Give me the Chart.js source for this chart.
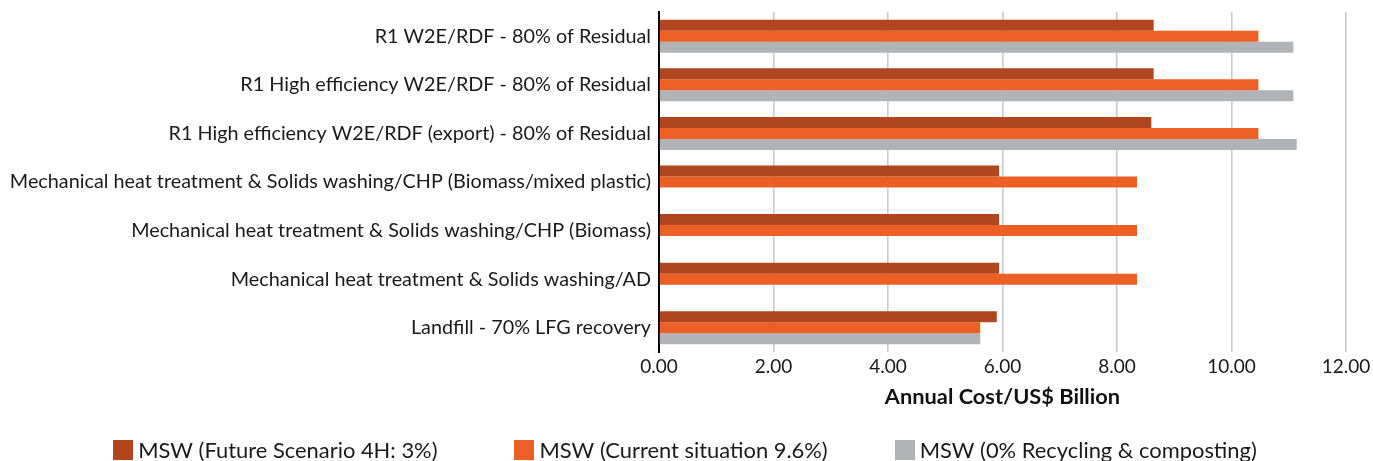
<!DOCTYPE html>
<html>
<head>
<meta charset="utf-8">
<script src="https://cdn.jsdelivr.net/npm/chart.js@4.4.1/dist/chart.umd.min.js"></script>
<style>
  html, body { margin: 0; padding: 0; background: #fff; }
  #wrap { width: 1373px; height: 461px; }
</style>
</head>
<body>
<div id="wrap"><canvas id="c" width="1373" height="461"></canvas></div>
<script>
const categories = [
  'R1 W2E/RDF - 80% of Residual',
  'R1 High efficiency W2E/RDF - 80% of Residual',
  'R1 High efficiency W2E/RDF (export) - 80% of Residual',
  'Mechanical heat treatment & Solids washing/CHP (Biomass/mixed plastic)',
  'Mechanical heat treatment & Solids washing/CHP (Biomass)',
  'Mechanical heat treatment & Solids washing/AD',
  'Landfill - 70% LFG recovery'
];
const seriesNames = [
  'MSW (Future Scenario 4H: 3%)',
  'MSW (Current situation 9.6%)',
  'MSW (0% Recycling & composting)'
];
const futureScenario = [8.64, 8.64, 8.60, 5.94, 5.94, 5.94, 5.90];
const currentSituation = [10.47, 10.47, 10.47, 8.35, 8.35, 8.35, 5.61];
const zeroRecycling = [11.08, 11.08, 11.14, null, null, null, 5.61];
const xTicks = [0, 2, 4, 6, 8, 10, 12];

const FONT = 'Lato, "Open Sans", sans-serif';

// Legend drawn as a single row beneath the axis title
const bottomLegend = {
  id: 'bottomLegend',
  afterDraw(chart) {
    const ctx = chart.ctx;
    const box = 20, textGap = 5, gaps = [77, 67], cy = 450, centre = 685;
    ctx.save();
    ctx.font = '21.9px ' + FONT;
    ctx.textBaseline = 'middle';
    const items = chart.data.datasets.map(ds => ({
      label: ds.label,
      color: ds.backgroundColor,
      w: box + textGap + ctx.measureText(ds.label).width
    }));
    const total = items.reduce((a, it) => a + it.w, 0) + gaps.reduce((a, g) => a + g, 0);
    let x = centre - total / 2;
    items.forEach((it, i) => {
      ctx.fillStyle = it.color;
      ctx.fillRect(Math.round(x), cy - box / 2, box, box);
      ctx.fillStyle = '#1a1a1a';
      ctx.fillText(it.label, x + box + textGap, cy + 1);
      x += it.w + (gaps[i] || 0);
    });
    ctx.restore();
  }
};

new Chart(document.getElementById('c'), {
  type: 'bar',
  data: {
    labels: categories,
    datasets: [
      { label: seriesNames[0], data: futureScenario, backgroundColor: '#B1461E' },
      { label: seriesNames[1], data: currentSituation, backgroundColor: '#EC6025' },
      { label: seriesNames[2], data: zeroRecycling, backgroundColor: '#B2B3B7' }
    ]
  },
  plugins: [bottomLegend],
  options: {
    indexAxis: 'y',
    responsive: false,
    animation: false,
    devicePixelRatio: 1,
    datasets: { bar: { categoryPercentage: 0.68, barPercentage: 1.0, skipNull: false } },
    layout: { padding: { top: 12, right: 27, left: 0, bottom: 51 } },
    plugins: {
      legend: { display: false },
      tooltip: { enabled: false }
    },
    scales: {
      x: {
        min: 0,
        max: 12,
        afterBuildTicks: (s) => { s.ticks = xTicks.map(v => ({ value: v })); },
        afterFit: (s) => {
          s.height = 58;
          s.paddingLeft = 0; s.paddingRight = 0; s.paddingTop = 0; s.paddingBottom = 0;
        },
        ticks: {
          callback: (v) => Number(v).toFixed(2),
          font: { family: FONT, size: 19 },
          color: '#1a1a1a',
          padding: 3
        },
        grid: { color: '#C9CACD', lineWidth: 1.6, drawTicks: false },
        border: { display: false },
        title: {
          display: true,
          text: 'Annual Cost/US$ Billion',
          font: { family: FONT, size: 21.8, weight: 'bold' },
          color: '#111',
          padding: { top: 0, bottom: 0 }
        }
      },
      y: {
        afterFit: (s) => {
          s.width = 659;
          s.paddingLeft = 0; s.paddingRight = 0; s.paddingTop = 0; s.paddingBottom = 0;
        },
        ticks: {
          font: { family: FONT, size: 19.8 },
          color: '#1a1a1a',
          padding: 8
        },
        grid: { display: false, drawTicks: false },
        border: { display: true, color: '#000', width: 2 }
      }
    }
  }
});
</script>
</body>
</html>
